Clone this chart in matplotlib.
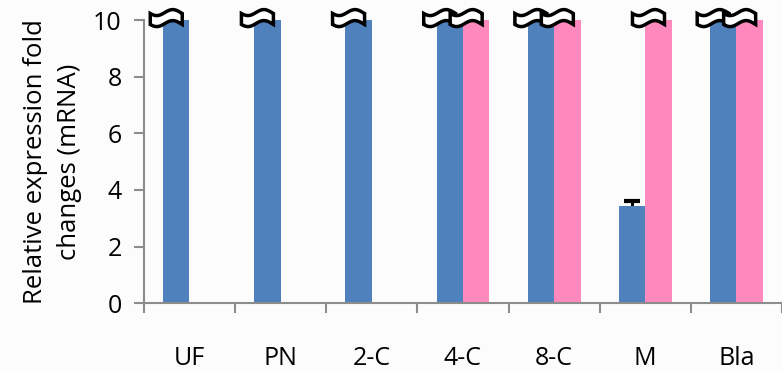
import numpy as np
import matplotlib
matplotlib.use("Agg")
import matplotlib.pyplot as plt
from matplotlib.patches import Polygon
from matplotlib.transforms import IdentityTransform

plt.rcParams['font.family'] = ['Open Sans', 'DejaVu Sans']

categories = ['UF', 'PN', '2-C', '4-C', '8-C', 'M', 'Bla']
# values above the axis top are shown broken (bar cut at 10)
blue = [12, 12, 12, 12, 12, 3.42, 12]
blue_err = [0, 0, 0, 0, 0, 0.18, 0]
pink = [0, 0, 0, 12, 12, 12, 12]

ymax = 10
blue_c = '#4F81BD'
pink_c = '#FF88BC'
spine_c = '#8C8C8C'

fig = plt.figure(figsize=(7.82, 3.72), dpi=100, facecolor='#fcfcfc')
ax = fig.add_axes([0.184, 0.185, 0.816, 0.761])
ax.set_facecolor('#fcfcfc')

x = np.arange(len(categories))
w = 0.29
ax.bar(x - w / 2, np.minimum(blue, ymax), w, color=blue_c, zorder=2)
ax.bar(x + w / 2, np.minimum(pink, ymax), w, color=pink_c, zorder=2)
# lower half of the error bar hides behind the bar
ax.errorbar(x - w / 2, np.minimum(blue, ymax), yerr=blue_err, fmt='none',
            ecolor='black', elinewidth=2.2, capsize=6, capthick=3, zorder=1)

ax.set_ylim(0, ymax)
ax.set_xlim(-0.5, 6.4)
ax.set_yticks(range(0, 11, 2))
ax.set_xticks(np.arange(-0.5, len(categories), 1))
ax.set_xticklabels([])
ax.set_xticks(x, minor=True)
ax.set_xticklabels(categories, minor=True)
ax.tick_params(axis='x', which='major', length=7, width=1.5, color=spine_c, direction='out')
ax.tick_params(axis='x', which='minor', length=0, pad=31, labelsize=18)
ax.tick_params(axis='y', length=7, width=1.5, color=spine_c, pad=9, labelsize=18)
for s in ['top', 'right']:
    ax.spines[s].set_visible(False)
for s in ['left', 'bottom']:
    ax.spines[s].set_color(spine_c)
    ax.spines[s].set_linewidth(1.5)
ax.set_ylabel('Relative expression fold\nchanges (mRNA)', fontsize=18.5, labelpad=8,
              linespacing=1.45)

fig.canvas.draw()


def squiggle(xc):
    cx, cy = ax.transData.transform((xc, ymax))
    cx -= 10
    cy += 2
    t = np.linspace(0, 1, 40)
    px = cx - 16 + 32 * t
    wave = 3 * np.sin(2 * np.pi * t + 0.3)
    top = np.column_stack([px, cy + 5.5 - wave])
    bot = np.column_stack([px[::-1], cy - 5.5 - wave[::-1]])
    poly = Polygon(np.vstack([top, bot]), closed=True, facecolor='white',
                   edgecolor='black', linewidth=2.5, transform=IdentityTransform(),
                   clip_on=False, zorder=5)
    ax.add_patch(poly)


for i in range(len(categories)):
    if blue[i] > ymax:
        squiggle(x[i] - w / 2)
    if pink[i] > ymax:
        squiggle(x[i] + w / 2)

fig.savefig('out.png', dpi=100, facecolor=fig.get_facecolor())
